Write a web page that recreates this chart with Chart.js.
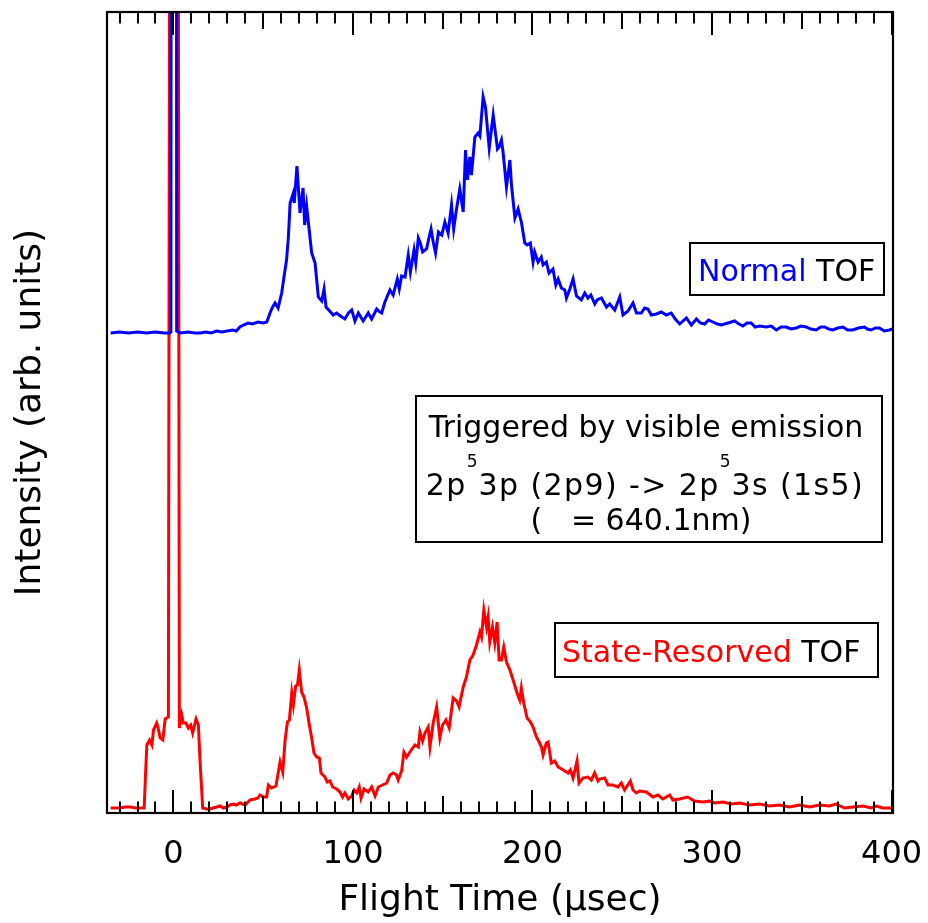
<!DOCTYPE html>
<html>
<head>
<meta charset="utf-8">
<script src="https://cdn.jsdelivr.net/npm/chart.js@4.4.1/dist/chart.umd.min.js"></script>
<style>
  html, body { margin: 0; padding: 0; background: #ffffff; }
  canvas { display: block; }
</style>
</head>
<body>
<canvas id="c" width="928" height="923"></canvas>
<script>
// ---- Data ----
const tickValues = [0, 100, 200, 300, 400];

const normalTime = [-35,-30,-25,-20,-15,-10,-5,-2,-1.4,-1.2,1.6,1.8,4,8,12,15,18,21,24,27,30,33,35,37,39,41.6,44,47,50,52,53.8,55,56.6,58.3,60.3,61.5,63,64,65,66.8,67.3,68.8,70.5,72.2,73.1,74.2,75.5,77,78.9,80.7,82.6,83.9,85,87,89,90.9,93,95.5,97.5,99.3,101.1,103,105.7,108.5,110.4,113.2,115,116,117.8,120.6,122.4,124.7,125.8,127.1,129,130.8,132,134,135,136.4,137.5,138.8,141,142.3,143.5,144.7,146,147.6,149.5,151.2,153,154.9,156.1,157.6,159.5,161.4,162.7,163.8,165.1,166,167.9,169.7,170.7,172.5,173.8,175.9,178.1,180.5,181.4,182.7,183.6,185.5,187.4,188.3,190.2,192,193.9,195.7,197,198.8,200.3,201.2,203.1,204.9,205.9,207.7,209.2,211.4,213,214.3,216.1,218,218.9,220.8,222.6,224.5,227.2,229.1,230.9,232.5,234.7,236,238.4,241.2,243,245.8,248.6,250.4,253.2,256,257.9,260.6,262.5,264.3,266.2,269,271.8,274.5,277.3,279.5,282,285.7,288.5,291.3,293.5,295.9,298,300.5,303,305.2,308.9,312.6,315,317.2,319.5,321.8,324,326.5,330.2,333,335.8,338.5,341.3,344,346.9,349.5,352.5,355,358,360.5,362.7,365,367.3,370,372.9,375.5,378.4,381.5,384.9,386.5,388.6,391,393.2,396,398.8,400.5];
const normalIntensity = [480,481,480,481,480,481,480,480,481,1500,1500,482,480,481,480,480,481,480,482,481,482,483,482,486,488,490,489,491,490,491,500,505,510,505,520,535,553,575,610,620,610,647,600,625,588,607,585,560,550,516,512,524,506,502,498,500,497,494,500,503,492,500,492,500,494,504,501,500,511,523,518,534,524,537,536,558,541,563,550,575,570,561,564,575,584,571,560,581,578,591,580,608,584,603,624,601,663,633,656,638,676,680,677,716,706,665,698,664,666,673,661,626,653,628,595,604,590,570,568,570,551,561,551,556,548,551,540,544,528,534,525,523,515,524,534,517,513,520,515,518,509,513,515,506,509,503,516,498,502,510,500,500,505,504,498,499,501,498,500,494,489,495,488,494,490,489,493,491,489,488,490,492,489,487,490,490,486,487,486,487,483,486,486,484,485,487,486,484,483,486,486,484,483,485,486,483,483,485,486,484,483,485,485,482,483,484];

const stateTime = [-35,-30,-27,-24,-21,-19.5,-16.3,-15.5,-14.8,-13.3,-12,-11.1,-9.3,-8.5,-7.4,-5.9,-4.6,-2.8,-1.6,2.3,3.3,4.6,5.5,7,8.3,9.6,10.7,12.6,13.9,14.8,16.3,18.5,20.4,22,24.1,26,27.8,29.7,31.5,33.4,35,37.1,39.9,42.7,45.4,47,48.2,50.1,51.9,52.9,54.7,57.1,59.4,60.9,62.2,63.5,64.6,65.9,66.8,68.1,69.1,70.1,71.4,72.7,74.2,75.7,77,78.3,79.8,81.3,82.2,84.4,85.7,87.2,88.7,90.9,92.8,94.2,95.5,97.4,99.3,100.6,102.1,103.5,104.5,106.2,108.5,110.4,112.3,114.1,116.5,118.8,120.6,122.4,124.3,125.2,127.1,128.4,129.9,131.7,134.5,136.4,137.3,138.8,140.1,141.9,142.9,144.7,146.6,148.4,149.9,151.8,153.6,155.8,157.7,159.1,161.4,163.2,165.1,166.9,168.8,170.7,171.6,172.9,174.4,175.3,176.2,177.7,179,180.3,181.4,182.7,184,185.5,187.4,189.2,191.4,192.9,193.8,195.1,197,198.9,200.3,202.2,203.7,205,205.9,207.7,208.7,210.5,212.4,214.3,217.1,219.8,221.1,222.6,224.8,225.9,228.1,230.9,232.8,234.6,236.5,237.5,240.2,242.1,244.8,247.6,249.5,251.3,254.5,256,257.8,259.7,263.4,267.1,269.9,272.6,276.4,278.2,281.9,286.5,290.2,294.9,298.6,301.4,306,310.7,315.3,320.9,326.5,332,337.6,343.2,348.7,354.3,359.9,365.4,369.1,373.8,378.4,384,388.6,391.4,395.1,398.8,400.5];
const stateIntensity = [5,5,6,6,5,5,5,40,68,73,68,83,90,85,75,73,94,96,1500,1500,85,98,90,90,85,88,80,94,88,53,5,4,4,5,6,7,5,6,8,9,8,10,8,13,14,15,18,16,16,28,25,27,51,41,73,91,93,120,108,127,128,143,121,116,105,88,75,60,56,55,40,36,31,32,26,24,21,16,20,14,17,23,20,26,15,24,21,26,17,26,28,30,38,40,38,33,42,61,56,61,68,66,81,72,80,86,66,90,106,75,88,93,85,115,112,106,126,136,153,158,168,181,176,203,186,196,171,186,170,191,153,153,166,151,143,133,120,113,125,110,95,91,86,76,71,66,58,70,71,50,52,46,43,40,43,35,52,30,35,36,33,40,32,34,35,28,28,26,30,23,32,23,20,22,21,16,18,14,18,13,14,16,12,11,12,10,11,9,10,8,9,7,8,6,8,6,8,7,9,5,6,7,5,7,5,5,5];

const xTitle = 'Flight Time (µsec)';
const yTitle = 'Intensity (arb. units)';

// ---- Helpers ----
const FONT = '"DejaVu Sans", Verdana, sans-serif';
function pts(xs, ys) { return xs.map((x, i) => ({ x: x, y: ys[i] })); }

function drawParts(ctx, parts, x, y) {
  let cx = x;
  for (const p of parts) {
    ctx.font = p.size + 'px ' + FONT;
    ctx.letterSpacing = (p.ls || 0) + 'px';
    ctx.fillStyle = p.color;
    ctx.fillText(p.text, cx, y + (p.dy || 0));
    cx += ctx.measureText(p.text).width;
  }
  ctx.letterSpacing = '0px';
  return cx;
}
function partsWidth(ctx, parts) {
  let w = 0;
  for (const p of parts) {
    ctx.font = p.size + 'px ' + FONT;
    ctx.letterSpacing = (p.ls || 0) + 'px';
    w += ctx.measureText(p.text).width;
  }
  ctx.letterSpacing = '0px';
  return w;
}

const framePlugin = {
  id: 'frame',
  afterDatasetsDraw(chart) {
    const ctx = chart.ctx;
    const a = chart.chartArea;
    const xs = chart.scales.x;
    ctx.save();
    ctx.strokeStyle = '#000';
    ctx.lineWidth = 2;
    for (let v = -30; v <= 400; v += 10) {
      const px = Math.round(xs.getPixelForValue(v));
      const len = (v % 100 === 0) ? 23 : ((v % 50 === 0) ? 17 : 11.5);
      ctx.beginPath();
      ctx.moveTo(px, a.top); ctx.lineTo(px, a.top + len);
      ctx.moveTo(px, a.bottom); ctx.lineTo(px, a.bottom - len);
      ctx.stroke();
    }
    ctx.lineWidth = 2.2;
    ctx.strokeRect(a.left, a.top, a.right - a.left, a.bottom - a.top);
    ctx.restore();
  },
  afterDraw(chart) {
    const ctx = chart.ctx;
    ctx.save();
    ctx.textBaseline = 'alphabetic';
    ctx.textAlign = 'left';
    ctx.strokeStyle = '#000';
    ctx.lineWidth = 2;

    // Normal TOF box
    ctx.fillStyle = '#fff';
    ctx.fillRect(690, 243, 194, 52);
    ctx.strokeRect(690, 243, 194, 52);
    drawParts(ctx, [
      { text: 'Normal', color: '#0000ff', size: 30 },
      { text: ' TOF', color: '#000000', size: 30 }
    ], 698, 281);

    // Center annotation box
    ctx.fillStyle = '#fff';
    ctx.fillRect(416, 396, 466, 146);
    ctx.strokeRect(416, 396, 466, 146);
    const cxm = 646;
    const l1 = [{ text: 'Triggered by visible emission', color: '#000', size: 30 }];
    drawParts(ctx, l1, cxm - partsWidth(ctx, l1) / 2, 437);
    const l2 = [
      { text: '2p', color: '#000', size: 30, ls: 1.4 },
      { text: '5', color: '#000', size: 17, dy: -28, ls: 1 },
      { text: '3p (2p9) -> 2p', color: '#000', size: 30, ls: 1.4 },
      { text: '5', color: '#000', size: 17, dy: -28, ls: 1 },
      { text: '3s (1s5)', color: '#000', size: 30, ls: 1.4 }
    ];
    drawParts(ctx, l2, 645 - partsWidth(ctx, l2) / 2, 495);
    const l3 = [{ text: '(   = 640.1nm)', color: '#000', size: 30 }];
    drawParts(ctx, l3, 641 - partsWidth(ctx, l3) / 2, 530);

    // State-Resorved TOF box
    ctx.fillStyle = '#fff';
    ctx.fillRect(555, 623, 323, 54);
    ctx.strokeRect(555, 623, 323, 54);
    drawParts(ctx, [
      { text: 'State-Resorved', color: '#ff0000', size: 30 },
      { text: ' TOF', color: '#000000', size: 30 }
    ], 562, 662);
    ctx.restore();
  }
};

new Chart(document.getElementById('c'), {
  type: 'line',
  data: {
    datasets: [
      {
        label: 'Normal TOF',
        data: pts(normalTime, normalIntensity),
        borderColor: '#0000ff',
        borderWidth: 3,
        pointRadius: 0,
        tension: 0,
        fill: false
      },
      {
        label: 'State-Resorved TOF',
        data: pts(stateTime, stateIntensity),
        borderColor: '#ff0000',
        borderWidth: 3,
        pointRadius: 0,
        tension: 0,
        fill: false
      }
    ]
  },
  options: {
    responsive: false,
    animation: false,
    devicePixelRatio: 1,
    layout: { padding: { top: 12, right: 35, left: 0, bottom: 0 } },
    plugins: { legend: { display: false }, tooltip: { enabled: false } },
    scales: {
      x: {
        type: 'linear',
        min: -37,
        max: 400.8,
        grid: { display: false, drawTicks: false },
        border: { display: false },
        afterBuildTicks(scale) { scale.ticks = tickValues.map(v => ({ value: v })); },
        afterFit(scale) {
          scale.height = 110;
          scale.paddingLeft = 0; scale.paddingRight = 0;
          scale.paddingTop = 0; scale.paddingBottom = 0;
        },
        ticks: {
          padding: 22,
          color: '#000',
          maxRotation: 0,
          autoSkip: false,
          font: { family: FONT, size: 32 },
          callback: (v) => String(v)
        },
        title: {
          display: true,
          text: xTitle,
          color: '#000',
          font: { family: FONT, size: 36 },
          padding: { top: 0, bottom: 1 }
        }
      },
      y: {
        type: 'linear',
        min: 0,
        max: 801,
        grid: { display: false, drawTicks: false },
        border: { display: false },
        ticks: { display: false },
        afterFit(scale) {
          scale.width = 107;
          scale.paddingTop = 0; scale.paddingBottom = 0;
          scale.paddingLeft = 0; scale.paddingRight = 0;
        },
        title: {
          display: true,
          text: yTitle,
          color: '#000',
          font: { family: FONT, size: 36 },
          padding: { top: 9, bottom: 0 }
        }
      }
    }
  },
  plugins: [framePlugin]
});
</script>
</body>
</html>
